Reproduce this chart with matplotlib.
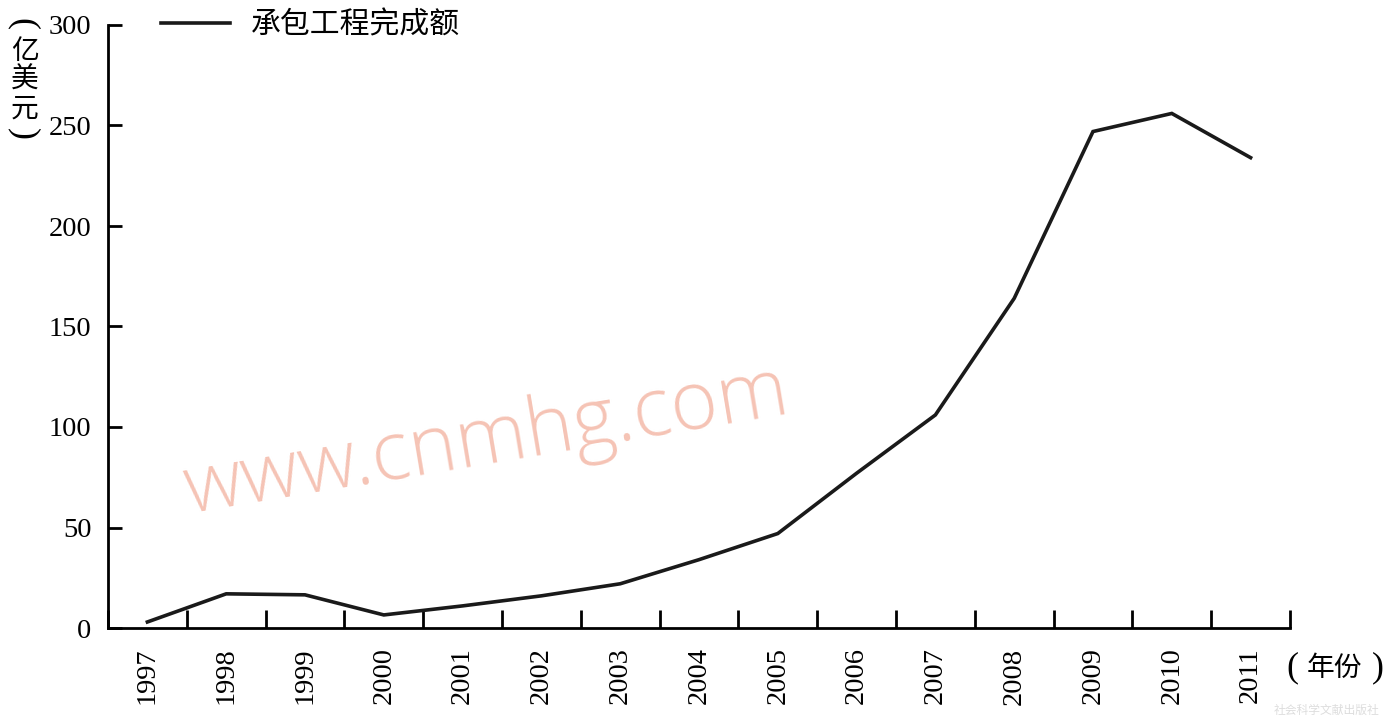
import numpy as np
import matplotlib

matplotlib.use("Agg")
import matplotlib.pyplot as plt

plt.rcParams["font.family"] = ["Liberation Serif", "Noto Sans CJK SC", "DejaVu Sans"]

# 承包工程完成额 (亿美元)
years = ["1997", "1998", "1999", "2000", "2001", "2002", "2003", "2004",
         "2005", "2006", "2007", "2008", "2009", "2010", "2011"]
amount = [3, 17, 16.5, 6.5, 11, 16, 22, 34, 47, 77, 106, 164, 247, 256, 234]
y_ticks = [0, 50, 100, 150, 200, 250, 300]

CJK = ["Noto Sans CJK SC", "DejaVu Sans"]
SERIF = ["Liberation Serif", "DejaVu Serif"]
W, H = 1391, 719

fig = plt.figure(figsize=(W / 100, H / 100), dpi=100)
ax = fig.add_axes([108 / W, 1 - 628 / H, (1290 - 108) / W, (628 - 25) / H])

x = np.arange(len(years)) + 0.5
ax.plot(x, amount, color="#1a1a1a", linewidth=2.6, solid_joinstyle="miter",
        label="承包工程完成额")

ax.set_xlim(0, len(years))
ax.set_ylim(0, 300)
ax.set_xticks(np.arange(len(years) + 1))
ax.set_xticklabels([])
ax.set_xticks(x, minor=True)
ax.set_xticklabels(years, minor=True, rotation=90, fontsize=20.5)
ax.tick_params(axis="x", which="major", direction="in", length=13, width=2)
ax.tick_params(axis="x", which="minor", length=0, pad=14)
ax.set_yticks(y_ticks)
ax.set_yticklabels([str(v) for v in y_ticks], fontsize=20.5)
ax.tick_params(axis="y", direction="in", length=10, width=2, pad=12)

for side in ("top", "right"):
    ax.spines[side].set_visible(False)
for side in ("left", "bottom"):
    ax.spines[side].set_linewidth(2)
ax.spines["left"].set_bounds(0, 300)

ax.legend(loc="upper left", bbox_to_anchor=(0.022, 1.07), frameon=False,
          handlelength=2.3, handletextpad=0.7,
          prop={"family": CJK, "size": 21.5})

# vertical unit label: （亿美元） written top to bottom
fig.text(23 / W, 1 - 24 / H, "(", fontsize=26, family=SERIF, rotation=-90,
         ha="center", va="center")
fig.text(25 / W, 1 - 80 / H, "亿\n美\n元", fontsize=20, family=CJK,
         ha="center", va="center", linespacing=0.95)
fig.text(23 / W, 1 - 134 / H, ")", fontsize=26, family=SERIF, rotation=-90,
         ha="center", va="center")

# x unit label: （年份）
fig.text(1292 / W, 1 - 668 / H, "(", fontsize=26, family=SERIF,
         ha="center", va="center")
fig.text(1334 / W, 1 - 668 / H, "年份", fontsize=20, family=CJK,
         ha="center", va="center")
fig.text(1378 / W, 1 - 668 / H, ")", fontsize=26, family=SERIF,
         ha="center", va="center")

# watermarks present in the source image
fig.text(487 / W, 1 - 442 / H, "www.cnmhg.com", fontsize=58,
         family=["Open Sans", "DejaVu Sans"], fontweight="light",
         color="#f4b9a8", alpha=0.85, rotation=9.5, ha="center", va="center")
fig.text(1327 / W, 1 - 710 / H, "社会科学文献出版社", fontsize=8.5,
         family=CJK, color="#dddddd", ha="center", va="center")

fig.savefig("out.png", dpi=100)
